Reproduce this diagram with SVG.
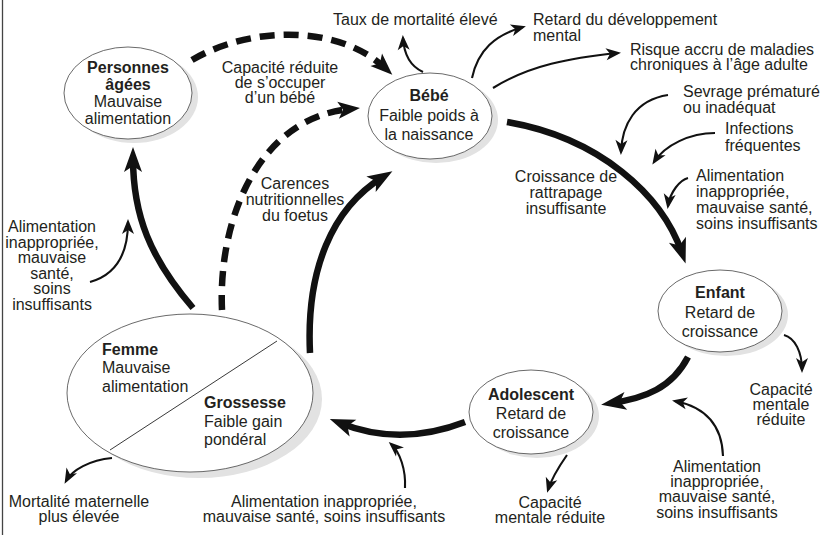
<svg xmlns="http://www.w3.org/2000/svg" width="823" height="535" viewBox="0 0 823 535">
<defs>
<style>
text{font-family:"Liberation Sans",Arial,sans-serif;font-size:16px;fill:#231f20}
.b{font-weight:bold}
.m{text-anchor:middle}
.node{fill:#fff;stroke:#444;stroke-width:0.8}
.sh{fill:#e2e2e2;stroke:none}
.thin{fill:none;stroke:#111;stroke-width:2.1;marker-end:url(#ah)}
.thick{fill:none;stroke:#111;stroke-width:6.5;marker-end:url(#ahb)}
.dash{fill:none;stroke:#111;stroke-width:6.5;stroke-dasharray:15 9;marker-end:url(#ahd)}
</style>
<marker id="ah" markerUnits="userSpaceOnUse" markerWidth="20" markerHeight="20" refX="12" refY="0" orient="auto" overflow="visible">
<path d="M0,-6 L15,0 L0,6 L4,0 Z" fill="#111"/>
</marker>
<marker id="ahb" markerUnits="userSpaceOnUse" markerWidth="30" markerHeight="30" refX="14" refY="0" orient="auto" overflow="visible">
<path d="M0,-9 L25,0 L0,9 L6,0 Z" fill="#111"/>
</marker>
<marker id="ahd" markerUnits="userSpaceOnUse" markerWidth="30" markerHeight="30" refX="12" refY="0" orient="auto" overflow="visible">
<path d="M0,-8.5 L22,0 L0,8.5 L5,0 Z" fill="#111"/>
</marker>
</defs>
<rect width="823" height="535" fill="#fff"/>
<line x1="2.5" y1="0" x2="2.5" y2="535" stroke="#444" stroke-width="1.3"/>

<g id="personnes">
<ellipse class="sh" cx="134" cy="97" rx="64" ry="46"/>
<ellipse class="node" cx="128" cy="93" rx="64" ry="46"/>
<text class="b m" x="128" y="73">Personnes</text>
<text class="b m" x="128" y="90">âgées</text>
<text class="m" x="128" y="107">Mauvaise</text>
<text class="m" x="128" y="124">alimentation</text>
</g>

<g id="bebe">
<ellipse class="sh" cx="436" cy="120" rx="62" ry="43"/>
<ellipse class="node" cx="430" cy="116" rx="62" ry="43"/>
<text class="b m" x="429" y="101">Bébé</text>
<text class="m" x="429" y="121">Faible poids à</text>
<text class="m" x="429" y="140">la naissance</text>
</g>

<g id="enfant">
<ellipse class="sh" cx="726" cy="315" rx="62" ry="41"/>
<ellipse class="node" cx="720" cy="311" rx="62" ry="41"/>
<text class="b m" x="720" y="298">Enfant</text>
<text class="m" x="720" y="318">Retard de</text>
<text class="m" x="720" y="337">croissance</text>
</g>

<g id="adolescent">
<ellipse class="sh" cx="537" cy="416" rx="62" ry="42"/>
<ellipse class="node" cx="531" cy="412" rx="62" ry="42"/>
<text class="b m" x="531" y="400">Adolescent</text>
<text class="m" x="531" y="419">Retard de</text>
<text class="m" x="531" y="438">croissance</text>
</g>

<g id="femme">
<ellipse class="sh" cx="199" cy="399" rx="123" ry="79"/>
<ellipse class="node" cx="190" cy="393" rx="123" ry="79"/>
<line x1="110" y1="450" x2="277" y2="341" stroke="#222" stroke-width="0.9"/>
<text class="b" x="102" y="355">Femme</text>
<text x="102" y="373">Mauvaise</text>
<text x="102" y="392">alimentation</text>
<text class="b" x="204" y="408">Grossesse</text>
<text x="204" y="427">Faible gain</text>
<text x="204" y="445">pondéral</text>
</g>

<g id="connectors">
<path class="thick" d="M507,122 C600,138 662,195 682,253"/>
<path class="thick" d="M688,357 C672,388 645,398 612,403"/>
<path class="thick" d="M465,422 Q400,447 340,423"/>
<path class="thick" d="M193,308 C150,258 133,215 133,158"/>
<path class="thick" d="M310,353 C306,270 332,208 383,177"/>
<path class="dash" d="M192,60 C250,26 338,24 385,68"/>
<path class="dash" d="M222,310 C218,220 258,118 350,109"/>
<path class="thin" d="M423,72 C410,66 404,55 403,38"/>
<path class="thin" d="M472,78 C478,50 495,35 523,27"/>
<path class="thin" d="M493,88 C530,65 570,58 618,53"/>
<path class="thin" d="M668,95 C635,100 622,125 621,152"/>
<path class="thin" d="M715,133 C690,133 665,145 654,162"/>
<path class="thin" d="M688,178 C680,180 670,192 668,206"/>
<path class="thin" d="M784,335 C795,338 802,352 802,370"/>
<path class="thin" d="M723,456 C722,425 705,407 675,401"/>
<path class="thin" d="M567,455 C560,465 552,477 548,490"/>
<path class="thin" d="M405,488 C406,470 400,452 391,444"/>
<path class="thin" d="M112,458 C90,460 72,470 66,481"/>
<path class="thin" d="M90,282 C115,275 128,255 128,222"/>
</g>

<g id="labels">
<text x="333" y="25">Taux de mortalité élevé</text>
<text x="533" y="25">Retard du développement</text>
<text x="533" y="41">mental</text>
<text x="630" y="55">Risque accru de maladies</text>
<text x="630" y="70">chroniques à l’âge adulte</text>
<text x="683" y="97">Sevrage prématuré</text>
<text x="683" y="113">ou inadéquat</text>
<text x="725" y="134">Infections</text>
<text x="725" y="151">fréquentes</text>
<text x="696" y="181">Alimentation</text>
<text x="696" y="197">inappropriée,</text>
<text x="696" y="213">mauvaise santé,</text>
<text x="696" y="229">soins insuffisants</text>
<text class="m" x="280" y="73">Capacité réduite</text>
<text class="m" x="280" y="88">de s’occuper</text>
<text class="m" x="280" y="103">d’un bébé</text>
<text class="m" x="566" y="182">Croissance de</text>
<text class="m" x="566" y="198">rattrapage</text>
<text class="m" x="566" y="214">insuffisante</text>
<text class="m" x="295" y="189">Carences</text>
<text class="m" x="295" y="205">nutritionnelles</text>
<text class="m" x="295" y="221">du foetus</text>
<text class="m" x="52" y="232">Alimentation</text>
<text class="m" x="52" y="248">inappropriée,</text>
<text class="m" x="52" y="263">mauvaise</text>
<text class="m" x="52" y="279">santé,</text>
<text class="m" x="52" y="294">soins</text>
<text class="m" x="52" y="310">insuffisants</text>
<text class="m" x="781" y="395">Capacité</text>
<text class="m" x="781" y="410">mentale</text>
<text class="m" x="781" y="425">réduite</text>
<text class="m" x="717" y="472">Alimentation</text>
<text class="m" x="717" y="487">inappropriée,</text>
<text class="m" x="717" y="502">mauvaise santé,</text>
<text class="m" x="717" y="518">soins insuffisants</text>
<text class="m" x="550" y="508">Capacité</text>
<text class="m" x="550" y="523">mentale réduite</text>
<text class="m" x="324" y="507">Alimentation inappropriée,</text>
<text class="m" x="324" y="522">mauvaise santé, soins insuffisants</text>
<text class="m" x="79" y="507">Mortalité maternelle</text>
<text class="m" x="79" y="522">plus élevée</text>
</g>
</svg>
